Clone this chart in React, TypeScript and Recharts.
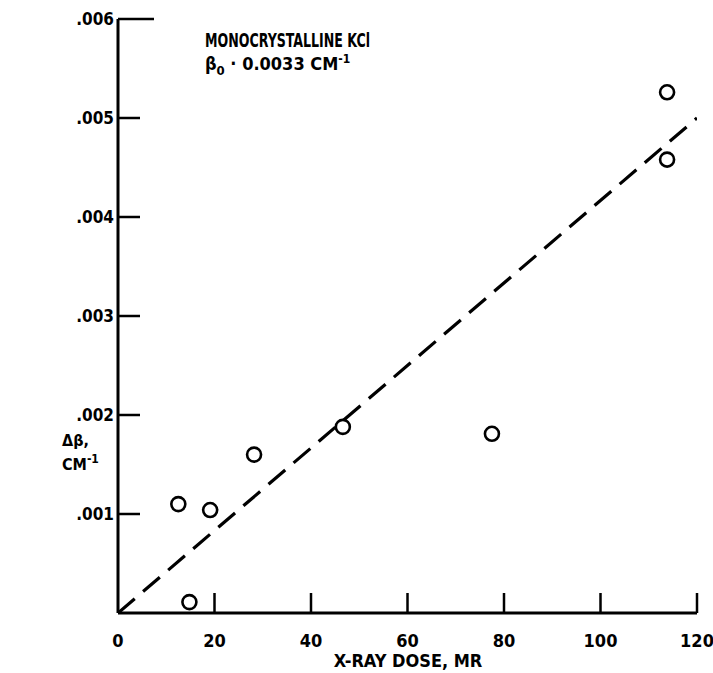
import {
  ComposedChart,
  Scatter,
  Line,
  XAxis,
  YAxis,
} from "recharts";

// X-ray dose (MR) vs. change in absorption coefficient (cm^-1)
const doseMR = [12.5, 14.8, 19.1, 28.2, 46.6, 77.5, 113.8, 113.8];
const deltaBeta = [0.0011, 0.00011, 0.00104, 0.0016, 0.00188, 0.00181, 0.00526, 0.00458];

const fitDose = [0, 120];
const fitDeltaBeta = [0, 0.005];

const xTicks = [0, 20, 40, 60, 80, 100, 120];
const xTickLabels = ["0", "20", "40", "60", "80", "100", "120"];
const yTicks = [0.001, 0.002, 0.003, 0.004, 0.005, 0.006];
const yTickLabels = [".001", ".002", ".003", ".004", ".005", ".006"];

const points = doseMR.map((x, i) => ({ x, y: deltaBeta[i] }));
const fitLine = fitDose.map((x, i) => ({ x, fit: fitDeltaBeta[i] }));

const FONT = "'DejaVu Sans Condensed', 'DejaVu Sans', sans-serif";

const XTick = (props: any) => {
  const { x, y, payload } = props;
  const i = xTicks.indexOf(payload.value);
  return (
    <g>
      {payload.value !== 0 && (
        <line x1={x} y1={y} x2={x} y2={y - 20} stroke="#000" strokeWidth={2.5} />
      )}
      <text
        x={x}
        y={y + 34}
        textAnchor="middle"
        fontFamily={FONT}
        fontWeight="bold"
        fontSize={18}
        fill="#000"
      >
        {xTickLabels[i]}
      </text>
    </g>
  );
};

const YTick = (props: any) => {
  const { x, y, payload } = props;
  const i = yTicks.findIndex((t) => Math.abs(t - payload.value) < 1e-9);
  if (i < 0) return null;
  const len = i === yTicks.length - 1 ? 36 : 22;
  return (
    <g>
      <line x1={x} y1={y} x2={x + len} y2={y} stroke="#000" strokeWidth={2.5} />
      <text
        x={x - 4}
        y={y + 6}
        textAnchor="end"
        fontFamily={FONT}
        fontWeight="bold"
        fontSize={17}
        fill="#000"
      >
        {yTickLabels[i]}
      </text>
    </g>
  );
};

const OpenCircle = (props: any) => {
  const { cx, cy } = props;
  return <circle cx={cx} cy={cy} r={7} fill="none" stroke="#000" strokeWidth={2.6} />;
};

export default function App() {
  return (
    <div style={{ position: "absolute", left: 0, top: 0, background: "#fff" }}>
      <ComposedChart
        width={713}
        height={673}
        margin={{ top: 19, right: 16, bottom: 0, left: 58 }}
      >
        <XAxis
          type="number"
          dataKey="x"
          domain={[0, 120]}
          ticks={xTicks}
          interval={0}
          tickSize={0}
          tickMargin={0}
          height={60}
          axisLine={{ stroke: "#000", strokeWidth: 3 }}
          tickLine={false}
          tick={<XTick />}
          allowDataOverflow
        />
        <YAxis
          type="number"
          domain={[0, 0.006]}
          ticks={yTicks}
          interval={0}
          tickSize={0}
          tickMargin={0}
          width={60}
          axisLine={{ stroke: "#000", strokeWidth: 3 }}
          tickLine={false}
          tick={<YTick />}
          allowDataOverflow
        />
        <Line
          data={fitLine}
          dataKey="fit"
          stroke="#000"
          strokeWidth={3.2}
          strokeDasharray="22 11"
          dot={false}
          activeDot={false}
          isAnimationActive={false}
        />
        <Scatter
          data={points}
          dataKey="y"
          shape={<OpenCircle />}
          isAnimationActive={false}
        />
        <text
          x={205}
          y={47}
          fontFamily={FONT}
          fontWeight="bold"
          fontSize={19}
          fill="#000"
          textLength={165}
          lengthAdjust="spacingAndGlyphs"
        >
          MONOCRYSTALLINE KCl
        </text>
        <text
          x={205}
          y={70}
          fontFamily={FONT}
          fontWeight="bold"
          fontSize={18}
          fill="#000"
        >
          β<tspan fontSize={13} dy={5}>0</tspan>
          <tspan dy={-5}> · 0.0033 CM</tspan>
          <tspan fontSize={12} dy={-7}>-1</tspan>
        </text>
        <text x={62} y={446} fontFamily={FONT} fontWeight="bold" fontSize={16} fill="#000">
          Δβ,
        </text>
        <text x={62} y={470} fontFamily={FONT} fontWeight="bold" fontSize={16} fill="#000">
          CM<tspan fontSize={12} dy={-7}>-1</tspan>
        </text>
        <text
          x={408}
          y={667}
          textAnchor="middle"
          fontFamily={FONT}
          fontWeight="bold"
          fontSize={18}
          fill="#000"
        >
          X-RAY DOSE, MR
        </text>
      </ComposedChart>
    </div>
  );
}
